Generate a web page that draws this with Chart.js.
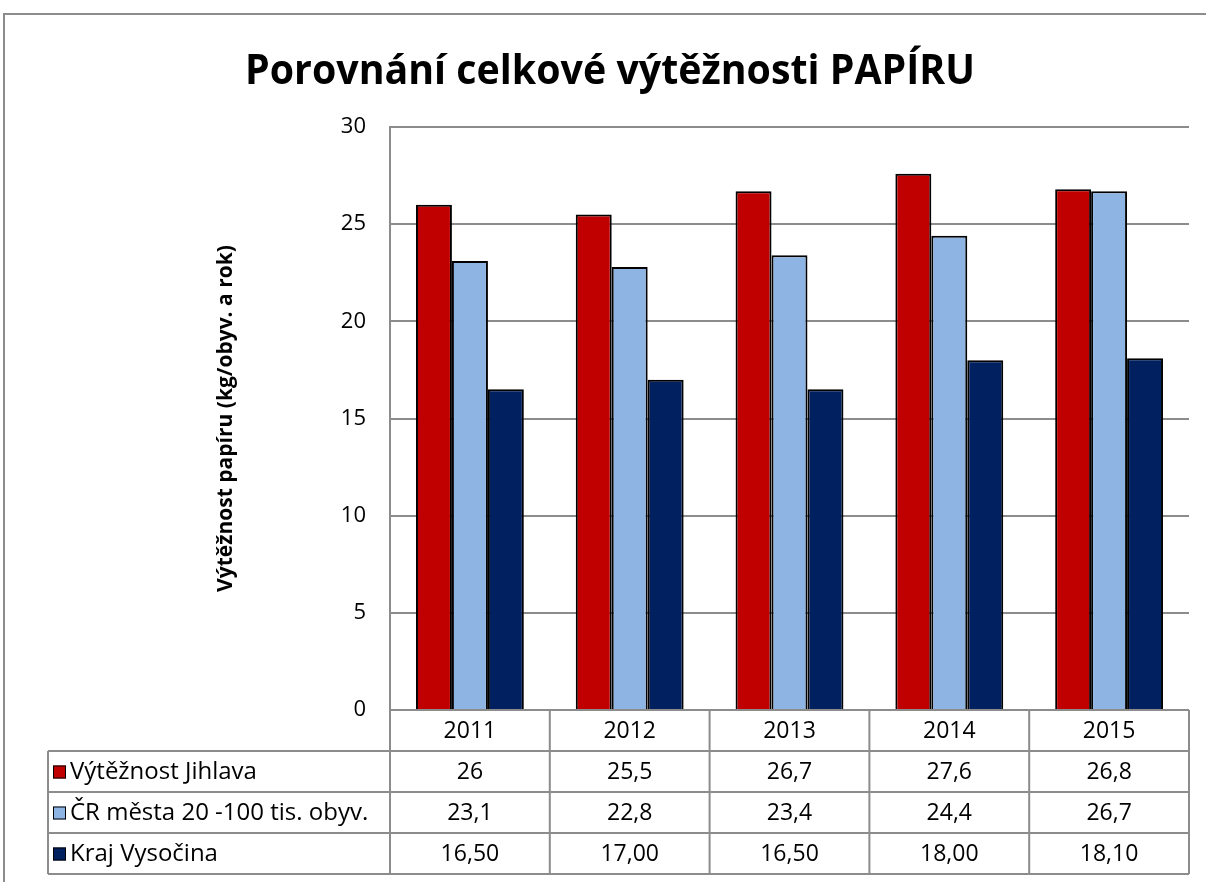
<!DOCTYPE html>
<html>
<head>
<meta charset="utf-8">
<script src="https://cdn.jsdelivr.net/npm/chart.js@4"></script>
<style>
  html, body { margin: 0; padding: 0; background: #fff; }
  canvas { display: block; }
</style>
</head>
<body>
<canvas id="c" width="1206" height="882"></canvas>
<script>
const chartTitle = 'Porovnání celkové výtěžnosti PAPÍRU';
const yAxisTitle = 'Výtěžnost papíru (kg/obyv. a rok)';
const categories = ['2011', '2012', '2013', '2014', '2015'];
const seriesNames = ['Výtěžnost Jihlava', 'ČR města 20 -100 tis. obyv.', 'Kraj Vysočina'];
const jihlava = [26, 25.5, 26.7, 27.6, 26.8];
const crMesta = [23.1, 22.8, 23.4, 24.4, 26.7];
const vysocina = [16.5, 17, 16.5, 18, 18.1];
const seriesDecimals = [null, null, 2];
const colors = ['#C00000', '#8EB4E3', '#002060'];
const yMin = 0, yMax = 30, yStep = 5;

const FONT = '"Open Sans", "Noto Sans", sans-serif';
const GRID = '#8c8c8c';

function fmt(v, dec) {
  const s = dec == null ? String(v) : v.toFixed(dec);
  return s.replace('.', ',');
}

const tablePlugin = {
  id: 'tablePlugin',
  beforeDraw(chart) {
    const ctx = chart.ctx;
    ctx.save();
    ctx.fillStyle = '#fff';
    ctx.fillRect(0, 0, chart.width, chart.height);
    ctx.strokeStyle = GRID;
    ctx.lineWidth = 2;
    ctx.strokeRect(4, 14, 1400, 1000);
    ctx.restore();
  },
  afterDraw(chart) {
    const ctx = chart.ctx;
    const xs = chart.scales.x;
    const area = chart.chartArea;
    const n = categories.length;
    const catW = (area.right - area.left) / n;
    const rowH = 41;
    const top = area.bottom;
    const tableLeft = 48;
    const rows = chart.data.datasets.length;
    const bottom = top + rowH * (rows + 1);
    ctx.save();
    ctx.strokeStyle = GRID;
    ctx.lineWidth = 2;
    ctx.beginPath();
    ctx.moveTo(area.left, top); ctx.lineTo(area.right, top);
    for (let r = 1; r <= rows + 1; r++) {
      const y = top + rowH * r;
      ctx.moveTo(tableLeft, y); ctx.lineTo(area.right, y);
    }
    ctx.moveTo(tableLeft, top + rowH); ctx.lineTo(tableLeft, bottom);
    for (let i = 0; i <= n; i++) {
      const x = i < n ? xs.getPixelForValue(i) - catW / 2 : xs.getPixelForValue(n - 1) + catW / 2;
      ctx.moveTo(x, top); ctx.lineTo(x, bottom);
    }
    ctx.stroke();

    ctx.fillStyle = '#000';
    ctx.font = '23px ' + FONT;
    ctx.textAlign = 'center';
    ctx.textBaseline = 'middle';
    categories.forEach((c, i) => {
      ctx.fillText(c, xs.getPixelForValue(i), top + rowH / 2 + 1);
    });
    chart.data.datasets.forEach((ds, r) => {
      const yc = top + rowH * (r + 1) + rowH / 2 + 1;
      ctx.font = '23px ' + FONT;
      ds.data.forEach((v, i) => {
        ctx.textAlign = 'center';
        ctx.fillText(fmt(v, seriesDecimals[r]), xs.getPixelForValue(i), yc);
      });
      ctx.fillStyle = ds.backgroundColor;
      ctx.fillRect(53, yc - 7, 13, 13);
      ctx.strokeStyle = '#000';
      ctx.lineWidth = 1;
      ctx.strokeRect(53.5, yc - 6.5, 12, 12);
      ctx.fillStyle = '#000';
      ctx.textAlign = 'left';
      ctx.font = '24px ' + FONT;
      ctx.fillText(ds.label, 70, yc, area.left - 74);
    });

    ctx.font = 'bold 41px ' + FONT;
    ctx.textAlign = 'center';
    ctx.textBaseline = 'middle';
    ctx.fillText(chartTitle, 610, 72, 730);
    ctx.restore();
  }
};

const datasets = [jihlava, crMesta, vysocina].map((d, i) => ({
  label: seriesNames[i],
  data: d,
  backgroundColor: colors[i],
  borderColor: '#000',
  borderWidth: 2,
  categoryPercentage: 0.675,
  barPercentage: 1.0
}));

new Chart(document.getElementById('c'), {
  type: 'bar',
  data: { labels: categories, datasets },
  options: {
    responsive: false,
    animation: false,
    devicePixelRatio: 1,
    layout: { padding: { left: 209, top: 127, right: 17, bottom: 0 } },
    plugins: {
      legend: { display: false },
      title: { display: false },
      tooltip: { enabled: false }
    },
    scales: {
      x: {
        grid: { display: false },
        border: { display: false },
        ticks: { display: false },
        afterFit(s) { s.height = 172; }
      },
      y: {
        min: yMin, max: yMax,
        ticks: { stepSize: yStep, color: '#000', font: { family: FONT, size: 22 }, padding: 24 },
        grid: { color: GRID, lineWidth: 2, drawTicks: false },
        border: { display: true, color: GRID, width: 2 },
        title: { display: true, text: yAxisTitle, color: '#000', font: { family: FONT, size: 21, weight: 'bold' }, padding: 4 },
        afterFit(s) { s.width = 181; }
      }
    }
  },
  plugins: [tablePlugin]
});
</script>
</body>
</html>
